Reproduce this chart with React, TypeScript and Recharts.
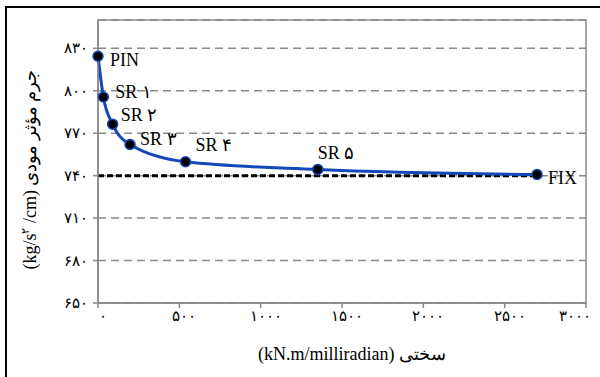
import {
  ComposedChart,
  Line,
  XAxis,
  YAxis,
  CartesianGrid,
  ReferenceLine,
  ReferenceArea,
  LabelList,
} from 'recharts';

// stiffness (kN.m/milliradian) vs effective modal mass
const stiffness = [0, 33, 90, 197, 538, 1351, 2699];
const modalMass = [824.4, 795.6, 776.4, 762, 749.8, 744.4, 740.8];
const pointLabels = ['PIN', 'SR ۱', 'SR ۲', 'SR ۳', 'SR ۴', 'SR ۵', 'FIX'];
const xTicks = [0, 500, 1000, 1500, 2000, 2500, 3000];
const yTicks = [650, 680, 710, 740, 770, 800, 830];
const fixedLevel = 740;

const data = stiffness.map((x, i) => ({ x, y: modalMass[i], name: pointLabels[i] }));

const FONT = '"Liberation Serif", "Times New Roman", Tinos, "Nimbus Roman", "DejaVu Serif", serif';
const GRID = '#8a8a8a';
const BLUE = '#1248b8';

const toFa = (n: number) => String(n).replace(/\d/g, (d) => '۰۱۲۳۴۵۶۷۸۹'[+d]);

// label offsets from each point (dx, dy)
const labelOffsets: [number, number][] = [
  [12, 4],
  [12, -5],
  [8, -9],
  [10, -6],
  [10, -17],
  [0, -16],
  [11, 3],
];

const renderPointLabel = (props: any) => {
  const { x, y, index, value } = props;
  const [dx, dy] = labelOffsets[index] ?? [8, -8];
  return (
    <text
      x={x + dx}
      y={y + dy}
      dominantBaseline="central"
      fontFamily={FONT}
      fontSize={18}
      fill="#000"
    >
      {value}
    </text>
  );
};

const XTick = (props: any) => {
  const { x, y, payload, index } = props;
  const last = index === xTicks.length - 1;
  return (
    <text
      x={last ? x + 7 : x + 5}
      y={y + 11}
      textAnchor={last ? 'end' : 'middle'}
      fontFamily={FONT}
      fontSize={15}
      fill="#000"
    >
      {toFa(payload.value)}
    </text>
  );
};

const YTick = (props: any) => {
  const { x, y, payload } = props;
  return (
    <text
      x={x - 3}
      y={y}
      textAnchor="end"
      dominantBaseline="central"
      fontFamily={FONT}
      fontSize={15}
      fill="#000"
    >
      {toFa(payload.value)}
    </text>
  );
};

export default function App() {
  return (
    <div style={{ position: 'absolute', left: 0, top: 0, width: 600, height: 377, overflow: 'hidden', background: '#fff' }}>
      <div
        style={{
          position: 'absolute',
          left: 5,
          top: 6,
          width: 620,
          height: 400,
          borderTop: '2px solid #000',
          borderLeft: '2px solid #000',
        }}
      />
      <div style={{ position: 'absolute', left: 0, top: 0 }}>
        <ComposedChart
          width={600}
          height={377}
          data={data}
          margin={{ top: 20, right: 14, bottom: 0, left: 0 }}
        >
          <CartesianGrid vertical={false} stroke={GRID} strokeWidth={1.5} strokeDasharray="8 5" />
          <ReferenceArea
            x1={0}
            x2={3000}
            y1={650}
            y2={850}
            fill="none"
            fillOpacity={0}
            stroke={GRID}
            strokeWidth={1.5}
            ifOverflow="visible"
          />
          <XAxis
            type="number"
            dataKey="x"
            domain={[0, 3000]}
            ticks={xTicks}
            height={74}
            stroke={GRID}
            strokeWidth={1.5}
            tickSize={5}
            tick={<XTick />}
            label={{
              content: (p: any) => {
                const vb = p.viewBox;
                return (
                  <text
                    x={vb.x + vb.width / 2 + 10}
                    y={vb.y + 51}
                    textAnchor="middle"
                    dominantBaseline="central"
                    fontFamily={FONT}
                    fontSize={18}
                    fill="#000"
                  >
                    (kN.m/milliradian) سختی
                  </text>
                );
              },
            }}
          />
          <YAxis
            type="number"
            domain={[650, 850]}
            ticks={yTicks}
            width={98}
            stroke={GRID}
            strokeWidth={1.5}
            tickSize={5}
            tick={<YTick />}
            label={{
              content: (p: any) => {
                const vb = p.viewBox;
                const cx = 30;
                const cy = vb.y + vb.height / 2 + 8;
                return (
                  <text
                    x={cx}
                    y={cy}
                    transform={`rotate(-90, ${cx}, ${cy})`}
                    textAnchor="middle"
                    dominantBaseline="central"
                    fontFamily={FONT}
                    fontSize={18}
                    fill="#000"
                  >
                    (kg/s
                    <tspan dy={-5} fontSize={11}>۲</tspan>
                    <tspan dy={5}> /cm) جرم مؤثر مودی</tspan>
                  </text>
                );
              },
            }}
          />
          <ReferenceLine
            segment={[
              { x: 0, y: fixedLevel },
              { x: stiffness[stiffness.length - 1], y: fixedLevel },
            ]}
            stroke="#000"
            strokeWidth={3}
            strokeDasharray="6 3"
          />
          <Line
            type="monotone"
            dataKey="y"
            stroke={BLUE}
            strokeWidth={3}
            dot={{ r: 5, fill: '#000', stroke: BLUE, strokeWidth: 1.5 }}
            activeDot={false}
            isAnimationActive={false}
          >
            <LabelList dataKey="name" content={renderPointLabel} />
          </Line>
        </ComposedChart>
      </div>
    </div>
  );
}
